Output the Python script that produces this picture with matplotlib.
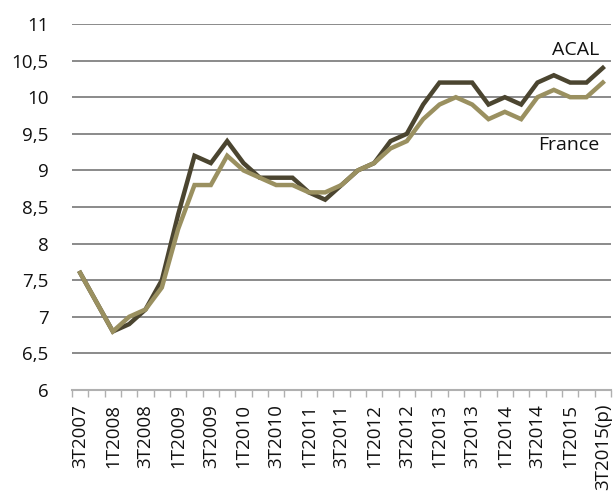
import matplotlib
matplotlib.use("Agg")
import matplotlib.pyplot as plt
import numpy as np

# quarterly labels, 3T2007 .. 3T2015(p)
quarters = []
for year in range(2007, 2016):
    for q in range(1, 5):
        if (year == 2007 and q < 3) or (year == 2015 and q > 3):
            continue
        quarters.append(f"{q}T{year}")
quarters[-1] = "3T2015(p)"

acal = [7.6, 7.2, 6.8, 6.9, 7.1, 7.5, 8.4, 9.2, 9.1, 9.4, 9.1, 8.9, 8.9, 8.9, 8.7, 8.6,
        8.8, 9.0, 9.1, 9.4, 9.5, 9.9, 10.2, 10.2, 10.2, 9.9, 10.0, 9.9, 10.2, 10.3, 10.2, 10.2, 10.4]
france = [7.6, 7.2, 6.8, 7.0, 7.1, 7.4, 8.2, 8.8, 8.8, 9.2, 9.0, 8.9, 8.8, 8.8, 8.7, 8.7,
          8.8, 9.0, 9.1, 9.3, 9.4, 9.7, 9.9, 10.0, 9.9, 9.7, 9.8, 9.7, 10.0, 10.1, 10.0, 10.0, 10.2]
yticks = [6, 6.5, 7, 7.5, 8, 8.5, 9, 9.5, 10, 10.5, 11]

acal_color = '#4b4530'
france_color = '#9a9060'
grid_color = '#8a8a8a'

plt.rcParams['font.family'] = ['Open Sans', 'DejaVu Sans']

fig = plt.figure(figsize=(6.13, 4.96), dpi=100)
ax = fig.add_axes([72/613, 1 - 390/496, 539/613, 366/496])

x = np.arange(len(quarters))
ax.plot(x, acal, color=acal_color, lw=3.2, solid_joinstyle='miter', zorder=3)
ax.plot(x, france, color=france_color, lw=3.2, solid_joinstyle='miter', zorder=4)

ax.set_xlim(-0.5, len(quarters) - 0.5)
ax.set_ylim(6, 11)
ax.set_yticks(yticks)
ax.set_yticklabels([f"{v:g}".replace('.', ',') for v in yticks], fontsize=13.5, color='#111111')
for v in yticks[1:]:
    ax.axhline(v, color=grid_color, lw=1.4, zorder=1)

ax.set_xticks(x[::2])
ax.set_xticklabels(quarters[::2], rotation=90, fontsize=13.5, color='#111111')
ax.set_xticks(np.arange(-0.5, len(quarters)), minor=True)
ax.tick_params(axis='x', which='major', length=0, pad=10)
ax.tick_params(axis='x', which='minor', length=5, color='#b0b0b0', width=1)
ax.tick_params(axis='y', length=0, pad=17)

for s in ['top', 'right', 'left']:
    ax.spines[s].set_visible(False)
ax.spines['bottom'].set_color('#b0b0b0')
ax.spines['bottom'].set_linewidth(1.5)

ax.text(31.8, 10.65, "ACAL", ha='right', va='center', fontsize=14, color='#111111')
ax.text(31.8, 9.35, "France", ha='right', va='center', fontsize=14, color='#111111')

fig.savefig("out.png", dpi=100)
